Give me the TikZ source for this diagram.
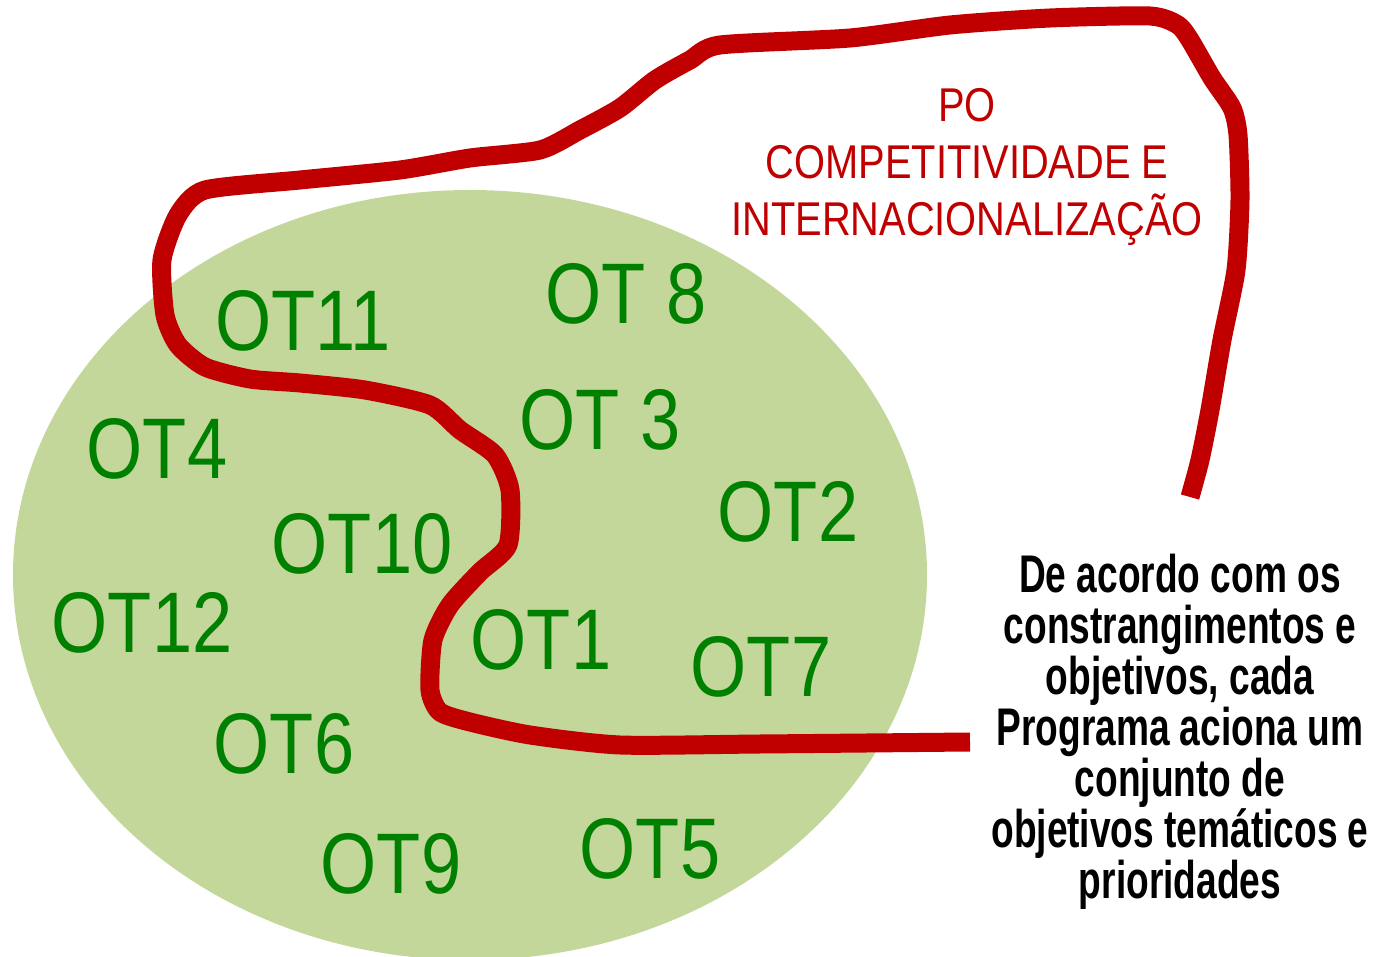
\documentclass[tikz,border=0pt]{standalone}
\usepackage{fontspec}
\setmainfont[FakeStretch=0.84]{Liberation Sans}
\newfontfamily\notefont[FakeStretch=0.7]{Liberation Sans}
\definecolor{fundo}{HTML}{C4D79B}
\definecolor{verde}{HTML}{008000}
\definecolor{vermelho}{HTML}{C00000}
\begin{document}
\begin{tikzpicture}[x=0.5pt, y=-0.5pt,
	ot/.style={text=verde, font=\fontsize{43}{43}\selectfont, inner sep=0pt},
	po/.style={text=vermelho, align=center, font=\fontsize{23.7}{28.5}\selectfont, inner sep=0pt},
	nota/.style={align=center, font=\notefont\bfseries\fontsize{26.5}{25.5}\selectfont, inner sep=0pt}]
	\useasboundingbox (0,0) rectangle (1373,957);
	\fill[fundo] (470,575) ellipse [x radius=457, y radius=385];
	\node[ot] (ot11) at (303,321) {OT11};
	\node[ot] (ot8) at (626,294) {OT 8};
	\node[ot] (ot3) at (600,420) {OT 3};
	\node[ot] (ot4) at (157,449) {OT4};
	\node[ot] (ot10) at (362,544) {OT10};
	\node[ot] (ot2) at (788,512) {OT2};
	\node[ot] (ot12) at (142,623) {OT12};
	\node[ot] (ot1) at (541,640) {OT1};
	\node[ot] (ot7) at (761,667) {OT7};
	\node[ot] (ot6) at (284,744) {OT6};
	\node[ot] (ot9) at (391,864) {OT9};
	\node[ot] (ot5) at (650,849) {OT5};
	% fronteira do PO
	\draw[vermelho, line width=9.5pt, line join=round] plot[smooth, tension=0.4] coordinates {
		(1190,497) (1200,460) (1210,410) (1222,340) (1236,270) (1240,200) (1238,135)
		(1232,108) (1212,78) (1190,40) (1178,25) (1150,16) (1050,18) (950,25) (850,38)
		(720,45) (690,60) (655,80) (620,108) (580,130) (540,150) (470,158) (400,170)
		(300,180) (205,190) (178,215) (162,260) (165,315) (178,345) (205,367) (250,379)
		(300,383) (365,390) (430,405) (460,430) (495,455) (510,490) (508,545) (480,572)
		(450,605) (433,640) (430,690) (440,712) (470,722) (530,735) (620,745) (760,744) (970,742)};
	\node[po] (po) at (967,167) {PO\\COMPETITIVIDADE E\\INTERNACIONALIZAÇÃO};
	\node[nota] (nota) at (1180,732) {De acordo com os\\constrangimentos e\\objetivos, cada\\Programa aciona um\\conjunto de\\objetivos temáticos e\\prioridades};
\end{tikzpicture}
\end{document}
